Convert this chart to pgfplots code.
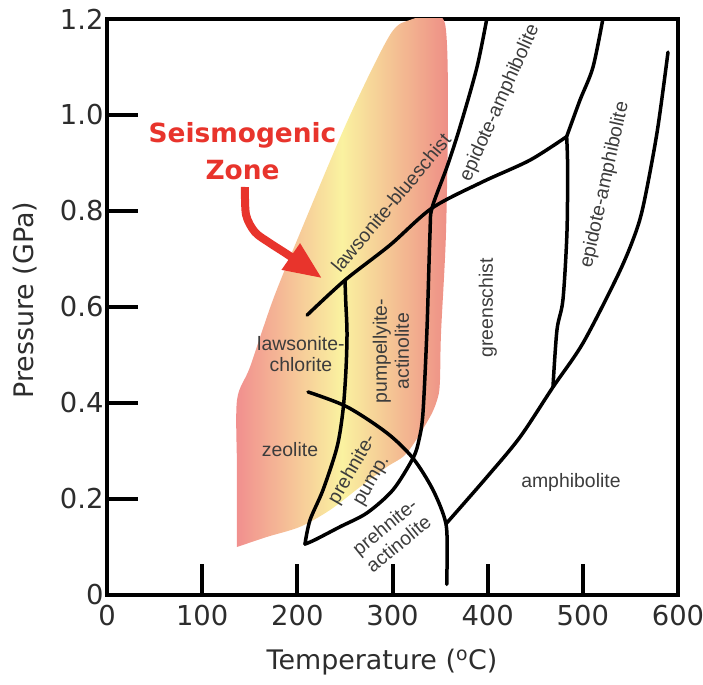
\documentclass[border=0pt]{standalone}
\usepackage{fontspec}
\usepackage{pgfplots}
\pgfplotsset{compat=1.18}
\usetikzlibrary{arrows.meta}
\newfontfamily\dejavu{DejaVu Sans}
\newfontfamily\lab{Liberation Sans}
\definecolor{zoneL}{RGB}{241,142,142}
\definecolor{zoneM}{RGB}{250,242,160}
\definecolor{zoneR}{RGB}{238,142,134}
\definecolor{seis}{RGB}{232,52,44}
\definecolor{labc}{RGB}{60,60,60}
\definecolor{tickc}{RGB}{45,45,45}
\begin{document}
\begin{tikzpicture}
\begin{axis}[
  scale only axis, width=571bp, height=576bp,
  xmin=0, xmax=600, ymin=0, ymax=1.2,
  axis line style={line width=4.5bp},
  xtick={0,100,200,300,400,500,600}, xticklabels={0,100,200,300,400,500,600},
  ytick={0,0.2,0.4,0.6,0.8,1.0,1.2}, yticklabels={0,0.2,0.4,0.6,0.8,1.0,1.2},
  tick align=inside, xtick pos=bottom, ytick pos=left,
  major tick length=31bp,
  every tick/.style={line width=4bp, black},
  tick label style={font=\dejavu\fontsize{27.5}{30}\selectfont, text=tickc},
  xticklabel style={yshift=-7bp},
  xlabel={Temperature (\textsuperscript{o}C)},
  ylabel={Pressure (GPa)},
  label style={font=\dejavu\fontsize{27}{30}\selectfont, text=tickc},
  xlabel style={at={(axis description cs:0.4816,-0.1163)}, anchor=center},
  ylabel style={at={(axis description cs:-0.1436,0.512)}, anchor=center},
]
% seismogenic zone
\addplot[draw=none, smooth, tension=0.5, left color=zoneL, right color=zoneR, middle color=zoneM] coordinates {
(136.6,0.10) (136.6,0.26) (136.6,0.406) (150.3,0.475) (174.4,0.615) (202.8,0.754)
(253.2,0.99) (297.4,1.167) (318.4,1.198) (339.4,1.205) (355.2,1.19) (358.3,1.031)
(356.2,0.754) (351.0,0.546) (349.9,0.448) (347.8,0.4125) (339.4,0.371) (315.2,0.296)
(294.2,0.267) (265.8,0.225) (234.3,0.177) (202.8,0.142) (168.1,0.121) (136.6,0.10)};

\pgfplotsset{every axis plot/.append style={black, line width=3.5bp, line join=round, line cap=round}}
% lawsonite-blueschist boundary
\addplot[smooth] coordinates {(210.2,0.583) (250.1,0.656) (297.4,0.729) (341.5,0.806) (393.9,0.860) (444.5,0.906) (483.0,0.955)};
% junction up
\addplot[smooth] coordinates {(483.0,0.955) (497.0,1.031) (510.7,1.100) (522.0,1.21)};
% junction down
\addplot[smooth] coordinates {(483.0,0.955) (484.0,0.892) (483.3,0.754) (479.1,0.615) (472.8,0.552) (468.6,0.433)};
% amphibolite boundary
\addplot[smooth] coordinates {(589.5,1.131) (577.9,0.9625) (563.2,0.808) (552.7,0.740) (535.9,0.6625) (500.2,0.525) (468.6,0.433) (434.0,0.329) (399.3,0.246) (357.0,0.150)};
% big curve
\addplot[smooth] coordinates {(400,1.21) (388.8,1.1) (370.9,0.975) (357.3,0.892) (341.5,0.806) (339.4,0.754) (336.2,0.552) (332.0,0.379) (327.8,0.323) (321.5,0.285) (300.5,0.219) (273.2,0.171) (244.8,0.142) (218.6,0.115) (208.0,0.106)};
\addplot[smooth] coordinates {(208.0,0.106) (213.3,0.156) (227.0,0.219) (241.7,0.308) (248.0,0.385) (251.1,0.469) (252.2,0.546) (250.8,0.615) (250.1,0.656)};
% prehnite boundary
\addplot[smooth] coordinates {(211.2,0.423) (252.2,0.392) (294.2,0.3375) (321.5,0.285) (342.5,0.219) (356.0,0.150) (357.3,0.08) (357.0,0.022)};

% labels
\begin{scope}[every node/.style={font=\lab\fontsize{19.5}{22}\selectfont, text=labc, align=center}]
\node[rotate=50] at (axis cs:298.4,0.817) {lawsonite-blueschist};
\node[rotate=66] at (axis cs:413.0,1.025) {epidote-amphibolite};
\node[rotate=77.6] at (axis cs:523.3,0.854) {epidote-amphibolite};
\node[rotate=90] at (axis cs:400.3,0.598) {greenschist};
\node at (axis cs:487.5,0.235) {amphibolite};
\node at (axis cs:203.8,0.502) {lawsonite-\\chlorite};
\node[rotate=90] at (axis cs:298.4,0.508) {pumpellyite-\\actinolite};
\node at (axis cs:192.3,0.302) {zeolite};
\node[rotate=60] at (axis cs:268.0,0.25) {prehnite-\\pump.};
\node[rotate=39] at (axis cs:298.9,0.125) {prehnite-\\actinolite};
\end{scope}

% arrow
\addplot[seis, line width=8bp, smooth, line cap=butt, -{Triangle[length=38bp,width=30bp]}] coordinates {(145.0,0.85) (146.1,0.792) (155.5,0.756) (171.3,0.733) (192.3,0.706) (225.9,0.660)};
\node[font=\dejavu\bfseries\fontsize{26.5}{37}\selectfont, text=seis, align=center] at (axis cs:142.4,0.924) {Seismogenic\\Zone};
\end{axis}
\pgfresetboundingbox
\path[use as bounding box] (-107bp,-90bp) rectangle (596bp,595bp);
\end{tikzpicture}
\end{document}
